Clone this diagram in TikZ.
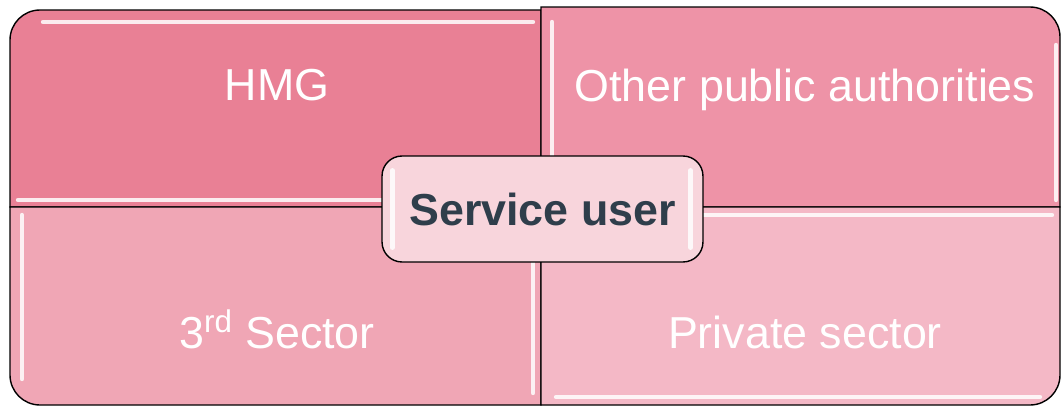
\documentclass[tikz,border=0pt]{standalone}
\usepackage{fontspec}
\setmainfont{Liberation Sans}
\definecolor{hmgpink}{HTML}{E98095}
\definecolor{otherpink}{HTML}{EE93A7}
\definecolor{thirdpink}{HTML}{F0A6B5}
\definecolor{privpink}{HTML}{F4B8C6}
\definecolor{userpink}{HTML}{F8D5DC}
\definecolor{userink}{HTML}{2F3E4B}
\begin{document}
\begin{tikzpicture}[x=0.02cm,y=0.02cm,
  tile/.style={draw=black,line width=0.8pt},
  shine/.style={white,line width=2.5pt,opacity=0.85,line cap=round},
  lbl/.style={text=white,anchor=base,font=\fontsize{25.5}{30}\selectfont},
  userbox/.style={draw=black,line width=0.8pt,fill=userpink,rounded corners=0.4cm,
    minimum width=6.42cm,minimum height=2.12cm,text=userink,
    font=\fontsize{25.5}{30}\selectfont\bfseries}]
\useasboundingbox (0,0) rectangle (1062,407);
% quadrants
\draw[tile,fill=hmgpink] (541,200) -- (10,200) -- (10,367) arc[start angle=180,end angle=90,radius=30] -- (541,397) -- cycle;
\draw[tile,fill=otherpink] (541,200) -- (541,400) -- (1030,400) arc[start angle=90,end angle=0,radius=30] -- (1060,200) -- cycle;
\draw[tile,fill=thirdpink] (541,200) -- (10,200) -- (10,32) arc[start angle=180,end angle=270,radius=30] -- (541,2) -- cycle;
\draw[tile,fill=privpink] (541,200) -- (1060,200) -- (1060,32) arc[start angle=0,end angle=-90,radius=30] -- (541,2) -- cycle;
% gloss
\draw[shine] (43,385) -- (533,385);
\draw[shine] (18,207) -- (533,207);
\draw[shine] (552,385) -- (552,207);
\draw[shine] (1056,362) -- (1056,207);
\draw[shine] (22,192) -- (22,28);
\draw[shine] (533,192) -- (533,14);
\draw[shine] (549,192) -- (1052,192);
\draw[shine] (556,10) -- (1040,10);
% labels
\node[lbl] (hmg) at (277,307) {HMG};
\node[lbl] (other) at (805,306) {Other public authorities};
\node[lbl] (third) at (277,59) {3\textsuperscript{rd} Sector};
\node[lbl] (private) at (805,59) {Private sector};
\node[userbox] (user) at (542.5,198) {Service user};
\draw[shine] ([xshift=0.22cm,yshift=-0.3cm]user.north west) -- ([xshift=0.22cm,yshift=0.3cm]user.south west);
\draw[shine] ([xshift=-0.26cm,yshift=-0.3cm]user.north east) -- ([xshift=-0.26cm,yshift=0.3cm]user.south east);
\end{tikzpicture}
\end{document}
